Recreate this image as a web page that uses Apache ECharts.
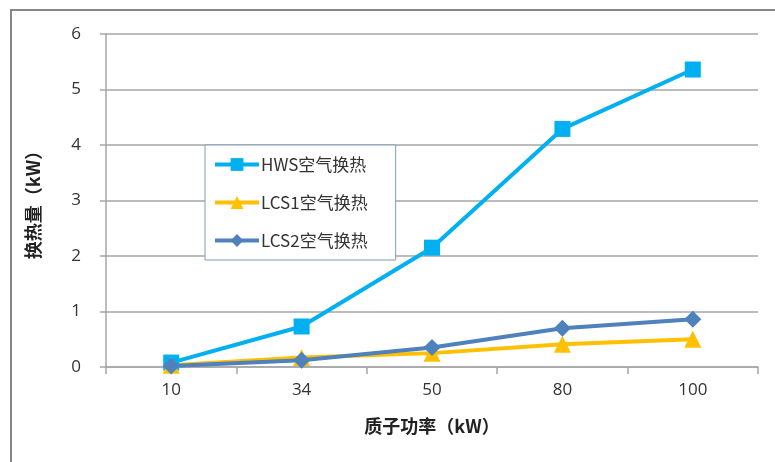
<!DOCTYPE html>
<html>
<head>
<meta charset="utf-8">
<script src="https://cdn.jsdelivr.net/npm/echarts@6/dist/echarts.min.js"></script>
<style>
  html, body { margin: 0; padding: 0; background: #fff; }
  #chart { width: 775px; height: 462px; }
</style>
</head>
<body>
<div id="chart"></div>
<script>
// Proton power categories (kW)
const categories = ['10', '34', '50', '80', '100'];
// Air heat exchange for each system (kW)
const hwsValues = [0.08, 0.73, 2.15, 4.29, 5.36];
const lcs1Values = [0.03, 0.17, 0.25, 0.41, 0.50];
const lcs2Values = [0.02, 0.12, 0.35, 0.70, 0.86];
const seriesNames = ['HWS空气换热', 'LCS1空气换热', 'LCS2空气换热'];
const yTicks = [0, 1, 2, 3, 4, 5, 6];

const FONT = '"Open Sans", "Noto Sans CJK SC", sans-serif';
const CJK = '"Noto Sans CJK SC", sans-serif';

const chart = echarts.init(document.getElementById('chart'));

function lineSeries(name, data, color, symbol, size) {
  return {
    name: name,
    type: 'line',
    data: data,
    symbol: symbol,
    symbolSize: size,
    lineStyle: { color: color, width: 4 },
    itemStyle: { color: color },
    emphasis: { disabled: true }
  };
}

chart.setOption({
  animation: false,
  graphic: [
    {
      type: 'rect',
      shape: { x: 11, y: 10, width: 800, height: 500 },
      style: { fill: 'none', stroke: '#868686', lineWidth: 2 },
      z: -1
    }
  ],
  grid: { left: 106, right: 17, top: 34, bottom: 95 },
  legend: {
    orient: 'vertical',
    left: 205,
    top: 145,
    width: 195,
    data: seriesNames,
    itemWidth: 44,
    itemHeight: 16,
    itemGap: 21,
    padding: [11, 28, 11, 8],
    borderColor: '#7f9db9',
    borderWidth: 1,
    backgroundColor: '#fff',
    lineStyle: { width: 4 },
    textStyle: { fontFamily: CJK, fontSize: 17, color: '#333', padding: [0, 0, 0, -3] }
  },
  xAxis: {
    type: 'category',
    data: categories,
    boundaryGap: true,
    name: '质子功率（kW）',
    nameLocation: 'middle',
    nameGap: 50,
    nameTextStyle: { fontFamily: CJK, fontSize: 18, fontWeight: 'bold', color: '#222' },
    axisLine: { lineStyle: { color: '#a6a6a6', width: 1.5 } },
    axisTick: { show: true, length: 7, lineStyle: { color: '#a6a6a6', width: 1.5 } },
    axisLabel: { fontFamily: FONT, fontSize: 17, color: '#333', margin: 15 }
  },
  yAxis: {
    type: 'value',
    min: yTicks[0],
    max: yTicks[yTicks.length - 1],
    interval: 1,
    name: '换热量（kW）',
    nameLocation: 'middle',
    nameGap: 64,
    nameTextStyle: { fontFamily: CJK, fontSize: 18, fontWeight: 'bold', color: '#222' },
    axisLine: { show: true, lineStyle: { color: '#a6a6a6', width: 1.5 } },
    axisTick: { show: true, length: 6, lineStyle: { color: '#a6a6a6', width: 1.5 } },
    axisLabel: { fontFamily: FONT, fontSize: 17, color: '#333', margin: 25 },
    splitLine: { lineStyle: { color: '#a6a6a6', width: 1.5 } }
  },
  series: [
    lineSeries(seriesNames[0], hwsValues, '#00b0f0', 'rect', 16),
    lineSeries(seriesNames[1], lcs1Values, '#ffc000', 'triangle', 17),
    lineSeries(seriesNames[2], lcs2Values, '#4f81bd', 'diamond', 17)
  ]
});
</script>
</body>
</html>
